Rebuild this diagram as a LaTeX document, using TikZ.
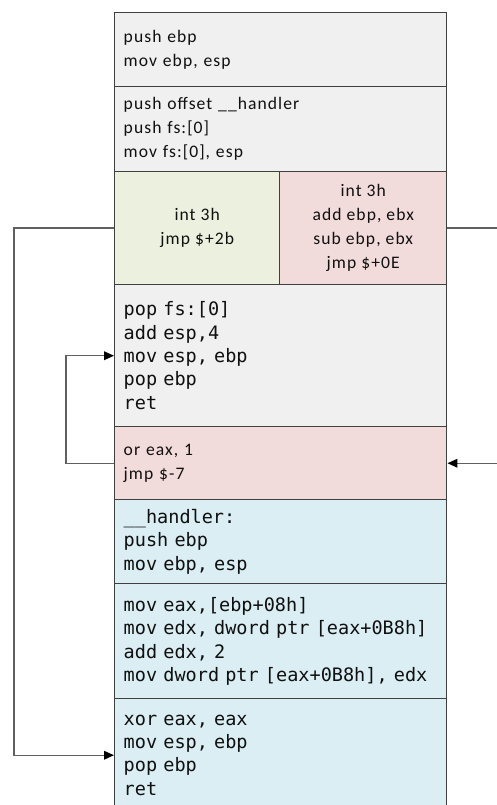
\documentclass[tikz,border=0pt]{standalone}
\usepackage{fontspec}
\setmainfont{Carlito}[LetterSpace=6]
\newfontfamily\monof{DejaVu Sans Mono}
\usetikzlibrary{arrows.meta}
\definecolor{bgray}{HTML}{F0F0F0}
\definecolor{bgreen}{HTML}{EBF1DE}
\definecolor{bred}{HTML}{F2DCDB}
\definecolor{bblue}{HTML}{DAEEF3}
\definecolor{bdr}{HTML}{404040}
\definecolor{conn}{HTML}{606060}
\definecolor{txt}{HTML}{101010}
\tikzset{
  blk/.style={draw=bdr, line width=1.1pt, anchor=north west, inner xsep=6.75pt, inner ysep=0pt,
    text width=235.5pt, minimum width=249pt, align=left, text=txt,
    font=\fontsize{13.2}{18}\selectfont},
  mono/.style={font=\monof\fontsize{13.9}{17.5}\selectfont},
  half/.style={draw=bdr, line width=1.1pt, anchor=north west, inner sep=0pt, align=center, text=txt,
    font=\fontsize{13.2}{18}\selectfont},
  conline/.style={draw=conn, line width=1.1pt},
  arr/.style={conline, -{Triangle[length=7.5pt,width=6.5pt,color=black]}}
}
\begin{document}
\begin{tikzpicture}[x=0.75pt,y=-0.75pt]
\useasboundingbox (0,0) rectangle (496,805);
\node[blk, fill=bgray, minimum height=55.5pt] (b1) at (114,12) {push ebp\\mov ebp, esp};
\node[blk, fill=bgray, minimum height=63.75pt] (b2) at (114,86) {push offset \_\_handler\\push fs:[0]\\mov fs:[0], esp};
\node[half, fill=bgreen, minimum width=123.75pt, minimum height=84.75pt] (g) at (114,171) {int 3h\\jmp \$+2b};
\node[half, fill=bred, minimum width=125.25pt, minimum height=84.75pt] (r) at (279,171) {int 3h\\add ebp, ebx\\sub ebp, ebx\\jmp \$+0E};
\node[blk, mono, fill=bgray, minimum height=106.5pt] (b4) at (114,284) {pop fs:[0]\\add esp,4\\mov esp, ebp\\pop ebp\\ret};
\node[blk, fill=bred, minimum height=54.75pt] (b5) at (114,426) {or eax, 1\\jmp \$-7};
\node[blk, mono, fill=bblue, minimum height=63pt] (b6) at (114,499) {\_\_handler:\\push ebp\\mov ebp, esp};
\node[blk, mono, fill=bblue, minimum height=86.25pt] (b7) at (114,583) {mov eax,[ebp+08h]\\mov edx, dword ptr [eax+0B8h]\\add edx, 2\\mov dword ptr [eax+0B8h], edx};
\node[blk, mono, fill=bblue, minimum height=84.75pt] (b8) at (114,698) {xor eax, eax\\mov esp, ebp\\pop ebp\\ret};
\coordinate (lv) at (14,500);
\coordinate (rv) at (500,350);
\coordinate (mv) at (66,400);
\draw[arr] (g.west) -| (lv) |- (b8.west);
\draw[arr] (r.east) -| (rv) |- (b5.east);
\draw[arr] (b5.west) -| (mv) |- (b4.west);
\end{tikzpicture}
\end{document}
